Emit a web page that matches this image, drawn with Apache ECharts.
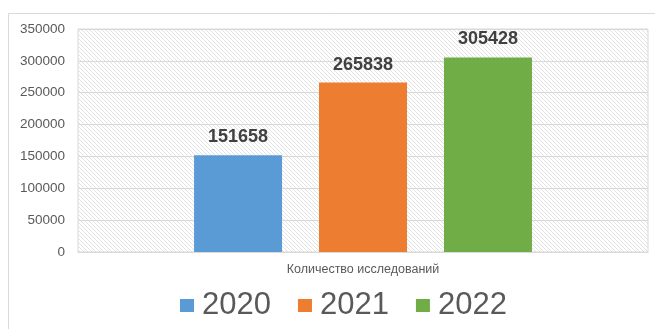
<!DOCTYPE html>
<html>
<head>
<meta charset="utf-8">
<script src="https://cdn.jsdelivr.net/npm/echarts@6/dist/echarts.min.js"></script>
<style>
  html, body { margin: 0; padding: 0; background: #fff; }
  #chart { width: 655px; height: 329px; }
</style>
</head>
<body>
<div id="chart"></div>
<script>
// Number of studies per year
const categories = ['Количество исследований'];
const years = ['2020', '2021', '2022'];
const values2020 = [151658];
const values2021 = [265838];
const values2022 = [305428];
const yTicks = { min: 0, max: 350000, interval: 50000 };
const colors = ['#5b9bd5', '#ed7d31', '#70ad47'];

// Diagonal hatch fill for the plot area
function makeHatch() {
  const c = document.createElement('canvas');
  c.width = 8; c.height = 8;
  const ctx = c.getContext('2d');
  ctx.fillStyle = '#ffffff';
  ctx.fillRect(0, 0, 8, 8);
  ctx.strokeStyle = '#e2e2e2';
  ctx.lineWidth = 1;
  for (let k = -3; k <= 2; k++) {
    ctx.beginPath();
    ctx.moveTo(4 * k, 0);
    ctx.lineTo(4 * k + 8, 8);
    ctx.stroke();
  }
  return c;
}

const font = 'Liberation Sans, Arial, sans-serif';
const seriesValues = [values2020, values2021, values2022];

const chart = echarts.init(document.getElementById('chart'), null, { renderer: 'canvas' });
chart.setOption({
  animation: false,
  backgroundColor: '#ffffff',
  textStyle: { fontFamily: font },
  graphic: [{
    type: 'rect',
    shape: { x: 8.5, y: 13.5, width: 700, height: 400 },
    style: { fill: 'none', stroke: '#d9d9d9', lineWidth: 1 },
    silent: true,
    z: -10
  }],
  grid: {
    left: 78, right: 7, top: 29, bottom: 77,
    show: true,
    borderColor: '#d9d9d9',
    borderWidth: 1,
    backgroundColor: { image: makeHatch(), repeat: 'repeat' }
  },
  legend: {
    data: years,
    left: 180,
    top: 290,
    padding: 0,
    icon: 'rect',
    itemWidth: 14,
    itemHeight: 13,
    itemGap: 27,
    textStyle: { fontSize: 31, color: '#595959', fontFamily: font, padding: [0, 0, 0, 3] }
  },
  xAxis: {
    type: 'category',
    data: categories,
    axisLine: { show: true, lineStyle: { color: '#d9d9d9' } },
    axisTick: { show: false },
    axisLabel: { color: '#595959', fontSize: 12.5, margin: 11, fontFamily: font }
  },
  yAxis: {
    type: 'value',
    min: yTicks.min,
    max: yTicks.max,
    interval: yTicks.interval,
    axisLine: { show: false },
    axisTick: { show: false },
    axisLabel: {
      color: '#595959', fontSize: 13.5, margin: 13, fontFamily: font,
      formatter: v => String(v)
    },
    splitLine: { lineStyle: { color: '#d9d9d9', width: 1 } }
  },
  series: years.map((y, i) => ({
    name: y,
    type: 'bar',
    data: seriesValues[i],
    barWidth: 88,
    barGap: '42%',
    itemStyle: { color: colors[i] },
    label: {
      show: true,
      position: 'top',
      distance: 9,
      color: '#404040',
      fontSize: 18,
      fontWeight: 'bold',
      fontFamily: font
    }
  }))
});
</script>
</body>
</html>
